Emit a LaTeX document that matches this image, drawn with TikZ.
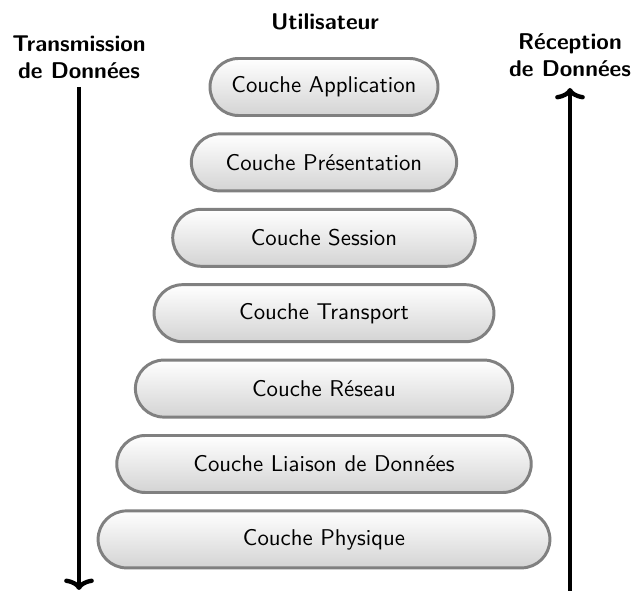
\documentclass[tikz,border=0pt]{standalone}
\usepackage{fontspec}
\usetikzlibrary{arrows.meta}
\begin{document}
\begin{tikzpicture}[x=0.4386pt,y=-0.4386pt,
  layer/.style={draw=black!50, line width=1.3pt, rounded corners=12.5pt,
    top color=white, bottom color=black!17, minimum height=25pt,
    font=\sffamily, inner sep=0pt},
  head/.style={font=\sffamily\bfseries, align=center, inner sep=0pt},
  flow/.style={line width=1.9pt, -{Computer Modern Rightarrow[length=5pt,width=13pt]}}]
\useasboundingbox (0,0) rectangle (633,591);
\node[head] (user) at (325,22) {Utilisateur};
\node[head] (tx) at (79,57) {Transmission\\de Données};
\node[head] (rx) at (570,55) {Réception\\de Données};
\foreach \i/\name/\txt in {0/app/Couche Application,1/pres/Couche Présentation,2/sess/Couche Session,3/trans/Couche Transport,4/res/Couche Réseau,5/liai/Couche Liaison de Données,6/phys/Couche Physique}{
  \node[layer, minimum width={100pt+16.36pt*\i}] (\name) at (324,87+75.4*\i) {\txt};
}
\coordinate (ltop) at (79,87);
\coordinate (lbot) at (79,590);
\coordinate (rbot) at (570,591);
\coordinate (rtop) at (570,88);
\draw[flow] (ltop) -- (lbot);
\draw[flow] (rbot) -- (rtop);
\end{tikzpicture}
\end{document}
